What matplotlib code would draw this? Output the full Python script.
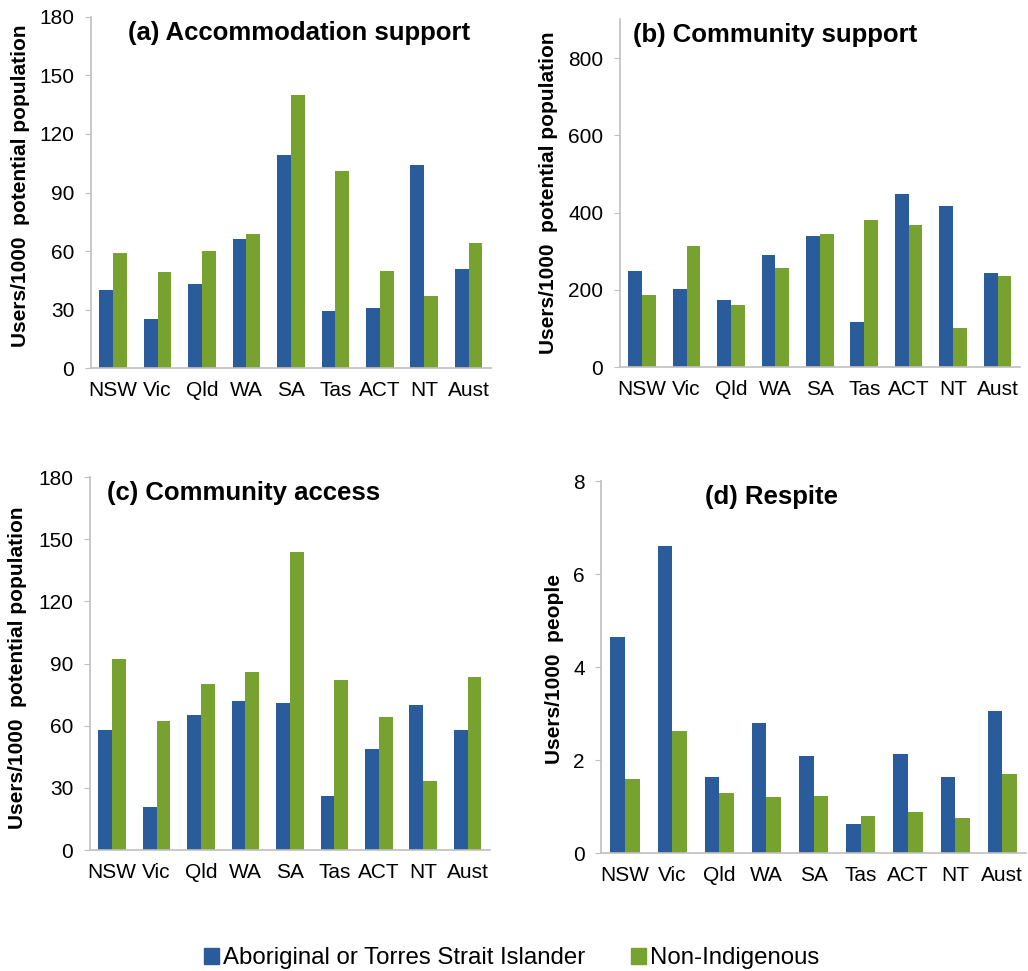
import matplotlib
matplotlib.use("Agg")
import matplotlib.pyplot as plt
import matplotlib.patches as mpatches
import numpy as np

plt.rcParams['font.family'] = ['Liberation Sans', 'DejaVu Sans']

states = ["NSW", "Vic", "Qld", "WA", "SA", "Tas", "ACT", "NT", "Aust"]

accom_indig = [40, 25, 43, 66, 109, 29, 31, 104, 51]
accom_non = [59, 49, 60, 68.5, 140, 101, 50, 37, 64]

comm_sup_indig = [248, 202, 174, 290, 340, 116, 447, 418, 244]
comm_sup_non = [186, 314, 161, 256, 344, 381, 369, 100, 236]

comm_acc_indig = [58, 21, 65, 72, 71, 26, 49, 70, 58]
comm_acc_non = [92, 62.5, 80, 86, 144, 82, 64, 33.5, 83.5]

respite_indig = [4.65, 6.6, 1.63, 2.8, 2.08, 0.62, 2.12, 1.63, 3.05]
respite_non = [1.6, 2.63, 1.3, 1.2, 1.23, 0.79, 0.89, 0.76, 1.7]

blue = "#2A5B9B"
green = "#78A22F"
grey = "#BFBFBF"

fig = plt.figure(figsize=(10.28, 9.71), dpi=100)

panels = [
    # rect, indig, non, ylim, yticks, ylabel, label pos, title, title x, title ha
    ([0.0885, 0.621, 0.389, 0.3615], accom_indig, accom_non, 180, np.arange(0, 181, 30),
     "Users/1000  potential population", (-0.1525, 0.52), "(a) Accommodation support", 0.52, "center"),
    ([0.603, 0.622, 0.389, 0.358], comm_sup_indig, comm_sup_non, 900, np.arange(0, 801, 200),
     "Users/1000  potential population", (-0.155, 0.50), "(b) Community support", 0.033, "left"),
    ([0.0875, 0.1246, 0.389, 0.384], comm_acc_indig, comm_acc_non, 180, np.arange(0, 181, 30),
     "Users/1000  potential population", (-0.1575, 0.49), "(c) Community access", 0.042, "left"),
    ([0.585, 0.1215, 0.413, 0.383], respite_indig, respite_non, 8, np.arange(0, 9, 2),
     "Users/1000  people", (-0.089, 0.495), "(d) Respite", 0.40, "center"),
]

x = np.arange(len(states))
w = 0.31
for rect, ind, non, ymax, yt, ylab, lpos, title, tx, ha in panels:
    ax = fig.add_axes(rect)
    ax.bar(x - w / 2, ind, w, color=blue)
    ax.bar(x + w / 2, non, w, color=green)
    ax.set_xlim(-0.5, len(states) - 0.5)
    ax.set_ylim(0, ymax)
    ax.set_yticks(yt)
    ax.set_xticks(x)
    ax.set_xticklabels(states, fontsize=15)
    ax.tick_params(axis='y', labelsize=15, length=4, color=grey, direction='out', pad=8)
    ax.tick_params(axis='x', length=0, pad=9)
    for s in ["top", "right"]:
        ax.spines[s].set_visible(False)
    for s in ["left", "bottom"]:
        ax.spines[s].set_color(grey)
        ax.spines[s].set_linewidth(1.2)
    ax.set_ylabel(ylab, fontsize=15, fontweight='bold')
    ax.yaxis.set_label_coords(*lpos)
    ax.text(tx, 0.99, title, transform=ax.transAxes, ha=ha, va='top',
            fontsize=18.5, fontweight='bold')

handles = [mpatches.Patch(color=blue, label="Aboriginal or Torres Strait Islander"),
           mpatches.Patch(color=green, label="Non-Indigenous")]
fig.legend(handles=handles, loc='center', bbox_to_anchor=(0.498, 0.013), ncol=2,
           frameon=False, fontsize=17.3, handlelength=0.6, handleheight=0.6,
           handletextpad=0.2, columnspacing=1.9)

fig.savefig("out.png", dpi=100)
